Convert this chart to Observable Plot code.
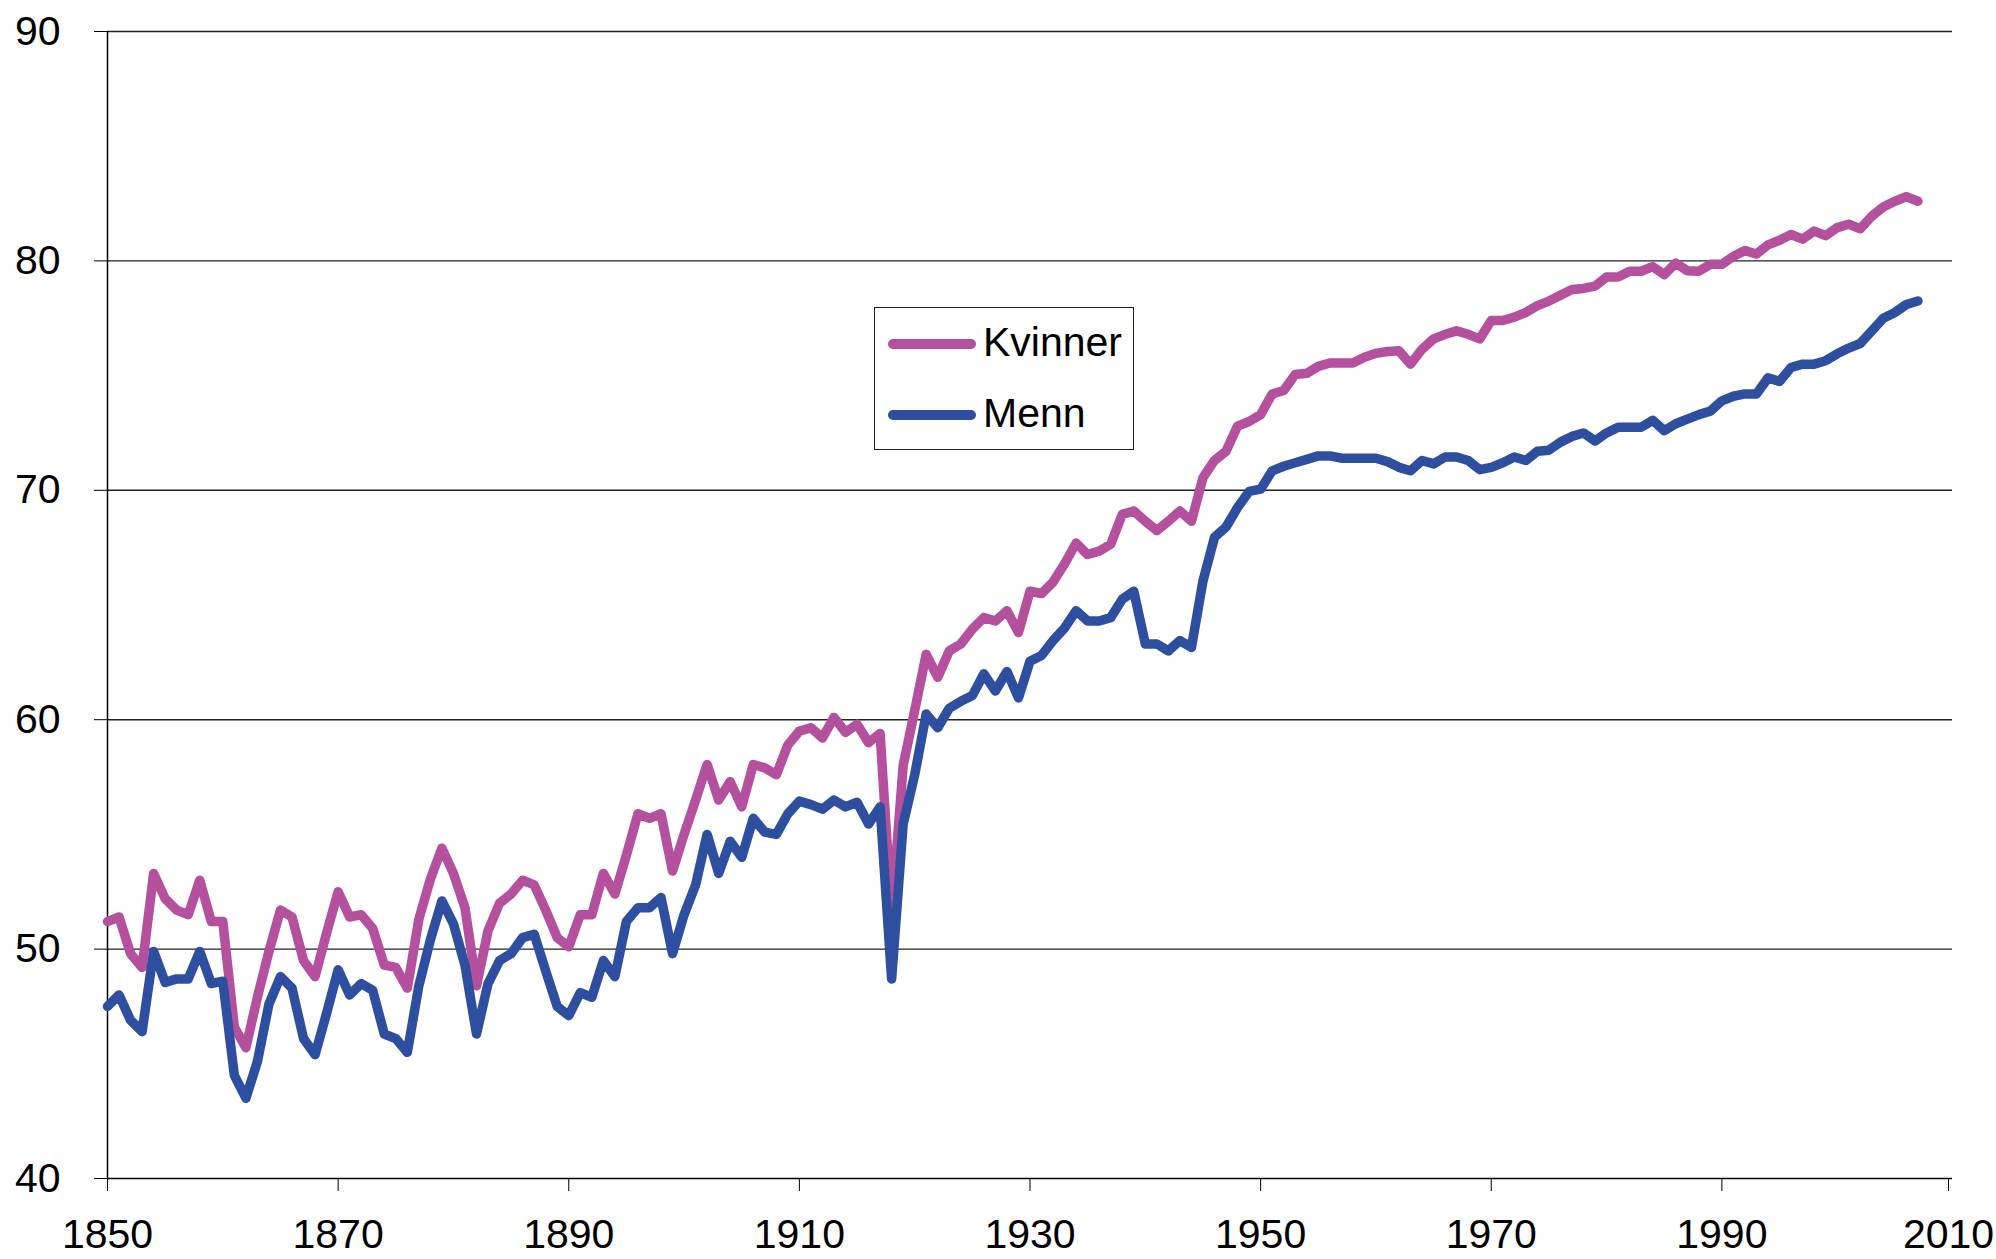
<!DOCTYPE html>
<html>
<head>
<meta charset="utf-8">
<script src="https://cdn.jsdelivr.net/npm/d3@7"></script>
<script src="https://cdn.jsdelivr.net/npm/@observablehq/plot@0.6"></script>
<style>
  html, body { margin: 0; padding: 0; background: #fff; }
  #wrap { position: relative; width: 1996px; height: 1259px; font-family: "Liberation Sans", Arial, sans-serif; }
  #legend { position: absolute; left: 874px; top: 307px; width: 258px; height: 141px; border: 1.5px solid #222; background: #fff; box-sizing: content-box; }
  .sw { position: absolute; left: 13px; width: 88px; height: 10px; border-radius: 5px; }
  .lt { position: absolute; left: 108px; font-size: 41px; line-height: 1; color: #000; white-space: nowrap; }
</style>
</head>
<body>
<div id="wrap"></div>
<script>
const years = d3.range(1850, 2008);

const kvinner = [
  51.2, 51.4, 49.8, 49.2, 53.3, 52.2, 51.7, 51.5, 53.0, 51.2,
  51.2, 46.6, 45.7, 47.9, 49.9, 51.7, 51.4, 49.5, 48.8, 50.7,
  52.5, 51.4, 51.5, 50.9, 49.3, 49.2, 48.3, 51.3, 53.05, 54.4,
  53.3, 51.8, 48.4, 50.8, 52.0, 52.4, 53.0, 52.8, 51.7, 50.5,
  50.1, 51.5, 51.5, 53.3, 52.4, 54.1, 55.9, 55.7, 55.9, 53.4,
  55.0, 56.5, 58.05, 56.5, 57.3, 56.2, 58.05, 57.9, 57.6, 58.9,
  59.5, 59.65, 59.2, 60.1, 59.45, 59.8, 59.0, 59.4, 51.5, 58.0,
  60.4, 62.85, 61.85, 63.0, 63.3, 63.95, 64.45, 64.3, 64.75, 63.8,
  65.6, 65.5, 66.0, 66.8, 67.7, 67.2, 67.35, 67.65, 68.95, 69.1,
  68.65, 68.25, 68.65, 69.1, 68.65, 70.55, 71.3, 71.7, 72.8, 73.0,
  73.3, 74.2, 74.35, 75.05, 75.1, 75.4, 75.55, 75.55, 75.55, 75.8,
  75.97, 76.05, 76.08, 75.5, 76.15, 76.6, 76.8, 76.95, 76.8, 76.6,
  77.4, 77.4, 77.55, 77.75, 78.05, 78.25, 78.5, 78.75, 78.8, 78.9,
  79.3, 79.3, 79.55, 79.55, 79.75, 79.4, 79.9, 79.57, 79.55, 79.85,
  79.85, 80.2, 80.45, 80.3, 80.7, 80.9, 81.15, 80.95, 81.3, 81.1,
  81.45, 81.6, 81.4, 81.95, 82.35, 82.6, 82.8, 82.6
];

const menn = [
  47.5, 48.0, 46.9, 46.4, 49.9, 48.55, 48.7, 48.7, 49.9, 48.5,
  48.6, 44.5, 43.5, 45.1, 47.6, 48.8, 48.3, 46.1, 45.4, 47.2,
  49.1, 48.0, 48.5, 48.2, 46.3, 46.1, 45.5, 48.4, 50.4, 52.1,
  51.1, 49.3, 46.3, 48.5, 49.5, 49.8, 50.5, 50.65, 49.05, 47.5,
  47.1, 48.1, 47.9, 49.5, 48.8, 51.2, 51.8, 51.8, 52.25, 49.8,
  51.5, 52.8, 55.0, 53.3, 54.7, 54.0, 55.7, 55.1, 55.0, 55.9,
  56.45, 56.3, 56.1, 56.5, 56.2, 56.4, 55.45, 56.2, 48.7, 55.45,
  57.6, 60.25, 59.65, 60.5, 60.8, 61.05, 62.0, 61.25, 62.1, 60.95,
  62.55, 62.8, 63.45, 64.0, 64.75, 64.3, 64.3, 64.45, 65.25, 65.6,
  63.3, 63.3, 63.0, 63.45, 63.15, 66.05, 67.95, 68.4, 69.25, 69.95,
  70.05, 70.85, 71.05, 71.2, 71.35, 71.5, 71.5, 71.4, 71.4, 71.4,
  71.4, 71.25, 71.0, 70.85, 71.3, 71.15, 71.45, 71.45, 71.3, 70.9,
  71.0, 71.2, 71.45, 71.3, 71.7, 71.75, 72.1, 72.35, 72.5, 72.15,
  72.5, 72.75, 72.75, 72.75, 73.05, 72.6, 72.9, 73.1, 73.3, 73.45,
  73.9, 74.1, 74.2, 74.2, 74.9, 74.75, 75.35, 75.5, 75.5, 75.65,
  75.95, 76.2, 76.4, 76.95, 77.5, 77.75, 78.1, 78.25
];

const seriesNames = ["Kvinner", "Menn"];
const seriesColors = ["#b4509e", "#2e4fa0"];
const xTicks = [1850, 1870, 1890, 1910, 1930, 1950, 1970, 1990];
const xLastTick = [2010];
const yTicks = [40, 50, 60, 70, 80, 90];

const kData = years.map((y, i) => ({year: y, value: kvinner[i]}));
const mData = years.map((y, i) => ({year: y, value: menn[i]}));

const chart = Plot.plot({
  width: 1996,
  height: 1259,
  marginLeft: 107,
  marginRight: 44,
  marginTop: 31,
  marginBottom: 81,
  style: {fontFamily: "'Liberation Sans', Arial, sans-serif", fontSize: "41px", color: "#000", background: "#fff"},
  x: {domain: [1850, 2010]},
  y: {domain: [40, 90]},
  marks: [
    Plot.ruleY(yTicks.filter(d => d > 40), {stroke: "#222", strokeWidth: 1.4}),
    Plot.axisY({ticks: yTicks, tickSize: 13, tickPadding: 34, tickFormat: d3.format("d"), label: null, fontSize: 41, stroke: "#000"}),
    Plot.axisX({ticks: xTicks, tickSize: 13, tickPadding: 27, tickFormat: d3.format("d"), label: null, fontSize: 41, stroke: "#000"}),
    Plot.axisX({ticks: xLastTick, tickSize: 13, tickPadding: 27, tickFormat: d3.format("d"), label: null, fontSize: 41, stroke: "#000", dx: -4}),
    Plot.ruleY([40], {stroke: "#000", strokeWidth: 1.5}),
    Plot.ruleX([1850], {stroke: "#000", strokeWidth: 1.5}),
    Plot.lineY(kData, {x: "year", y: "value", stroke: seriesColors[0], strokeWidth: 9.5, strokeLinejoin: "round", strokeLinecap: "round"}),
    Plot.lineY(mData, {x: "year", y: "value", stroke: seriesColors[1], strokeWidth: 9.5, strokeLinejoin: "round", strokeLinecap: "round"})
  ]
});

const wrap = document.getElementById("wrap");
wrap.appendChild(chart);

const legend = document.createElement("div");
legend.id = "legend";
const tops = [[31, 14], [102, 85]];
seriesNames.forEach((name, i) => {
  const sw = document.createElement("div");
  sw.className = "sw";
  sw.style.top = tops[i][0] + "px";
  sw.style.background = seriesColors[i];
  legend.appendChild(sw);
  const t = document.createElement("div");
  t.className = "lt";
  t.style.top = tops[i][1] + "px";
  t.textContent = name;
  legend.appendChild(t);
});
wrap.appendChild(legend);
</script>
</body>
</html>
